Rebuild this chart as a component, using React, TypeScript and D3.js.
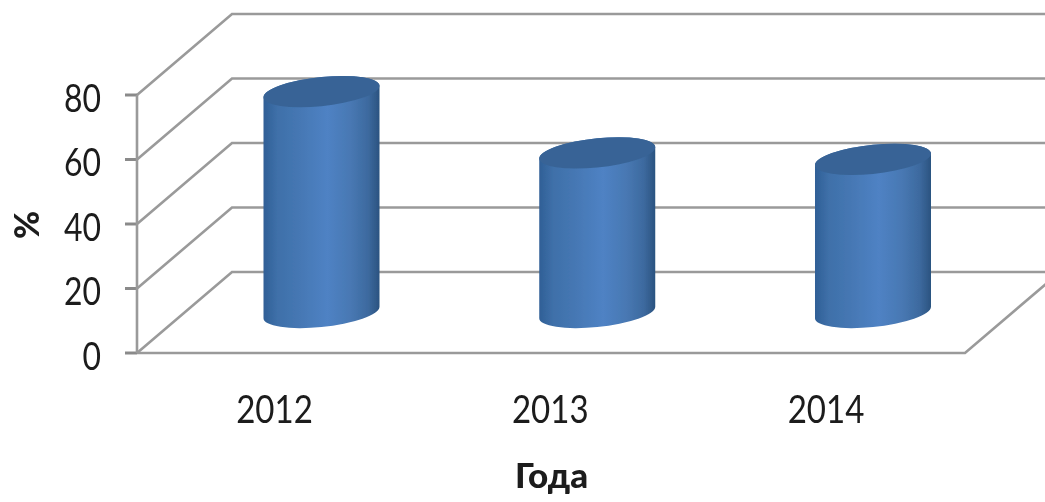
import React from "react";
import * as d3 from "d3";

const categories = ["2012", "2013", "2014"];
const values = [68.5, 49.5, 47.5];
const yTicks = [0, 20, 40, 60, 80];
const yTitle = "%";
const xTitle = "Года";

const W = 1045, H = 502;
const FX = 137, FR = 965, FY0 = 353, FY80 = 95;
const DX = 95, DY = -81;
const y = d3.scaleLinear().domain([0, 80]).range([FY0, FY80]);
const x = d3.scalePoint<string>().domain(categories).range([321.5, 873]);
const RX = 58.3, RY = 14.5, ROT = -6;
const rad = (ROT * Math.PI) / 180;
const HALF = Math.sqrt(RX * RX * Math.cos(rad) ** 2 + RY * RY * Math.sin(rad) ** 2);
const TILT = ((RX * RX - RY * RY) * Math.abs(Math.sin(rad)) * Math.cos(rad)) / HALF;
const FONT = "Lato, 'Open Sans', sans-serif";
const LINE = "#9a9a9a";

export default function App() {
  const barPath = (cx: number, topY: number, baseY: number) => {
    const l = cx - HALF, r = cx + HALF;
    return `M${l},${topY + TILT} A${RX},${RY} ${ROT} 0 1 ${r},${topY - TILT} L${r},${baseY - TILT} A${RX},${RY} ${ROT} 0 1 ${l},${baseY + TILT} Z`;
  };
  const topPath = (cx: number, topY: number) => {
    const l = cx - HALF, r = cx + HALF;
    return `M${l},${topY + TILT} A${RX},${RY} ${ROT} 1 1 ${r},${topY - TILT} A${RX},${RY} ${ROT} 1 1 ${l},${topY + TILT} Z`;
  };
  return (
    <svg width={W} height={H} style={{ position: "fixed", left: 0, top: 0, background: "#fff" }}>
      <defs>
        <linearGradient id="cyl" x1="0" x2="1" y1="0" y2="0">
          <stop offset="0" stopColor="#2f5f96" />
          <stop offset="0.12" stopColor="#3f70a9" />
          <stop offset="0.3" stopColor="#4577b3" />
          <stop offset="0.55" stopColor="#4f82c4" />
          <stop offset="0.75" stopColor="#4878b3" />
          <stop offset="0.9" stopColor="#3d6a9f" />
          <stop offset="1" stopColor="#2b5380" />
        </linearGradient>
        <filter id="soft"><feGaussianBlur stdDeviation="0.7" /></filter>
        <filter id="softText"><feGaussianBlur stdDeviation="0.4" /></filter>
      </defs>
      <g filter="url(#soft)">
        {yTicks.map(t => (
          <g key={t} fill="none" stroke={LINE} strokeWidth={2.6}>
            <path d={`M${FX},${y(t)} L${FX + DX},${y(t) + DY} L${W + 5},${y(t) + DY}`} />
            <line x1={FX - 12} x2={FX} y1={y(t)} y2={y(t)} strokeWidth={3} stroke="#8a8a8a" />
          </g>
        ))}
        <line x1={FX} x2={FX} y1={y(0)} y2={y(80)} stroke={LINE} strokeWidth={2.6} />
        <path d={`M${FX},${FY0} L${FR},${FY0} L${FR + DX},${FY0 + DY}`} fill="none" stroke={LINE} strokeWidth={2.6} />
        {categories.map((c, i) => {
          const cx = x(c)!;
          const baseY = y(0) + DY / 2;
          const topY = y(values[i]) + DY / 2;
          return (
            <g key={c}>
              <path d={barPath(cx, topY, baseY)} fill="url(#cyl)" />
              <path d={topPath(cx, topY)} fill="#386496" />
            </g>
          );
        })}
      </g>
      <g fontFamily={FONT} fill="#1a1a1a" filter="url(#softText)">
        {yTicks.map(t => (
          <text key={t} x={101} y={y(t) + 17} fontSize={38} textAnchor="end"
            transform="translate(101,0) scale(0.84,1) translate(-101,0)">{t}</text>
        ))}
        {categories.map(c => {
          const tx = x(c)! - 47;
          return (
            <text key={c} x={tx} y={423} fontSize={38} textAnchor="middle"
              transform={`translate(${tx},0) scale(0.87,1) translate(${-tx},0)`}>{c}</text>
          );
        })}
        <text x={551.5} y={488} fontSize={35} fontWeight={900} textAnchor="middle">{xTitle}</text>
        <text transform="translate(39,225) rotate(-90)" fontSize={34} fontWeight={900} textAnchor="middle">{yTitle}</text>
      </g>
    </svg>
  );
}
